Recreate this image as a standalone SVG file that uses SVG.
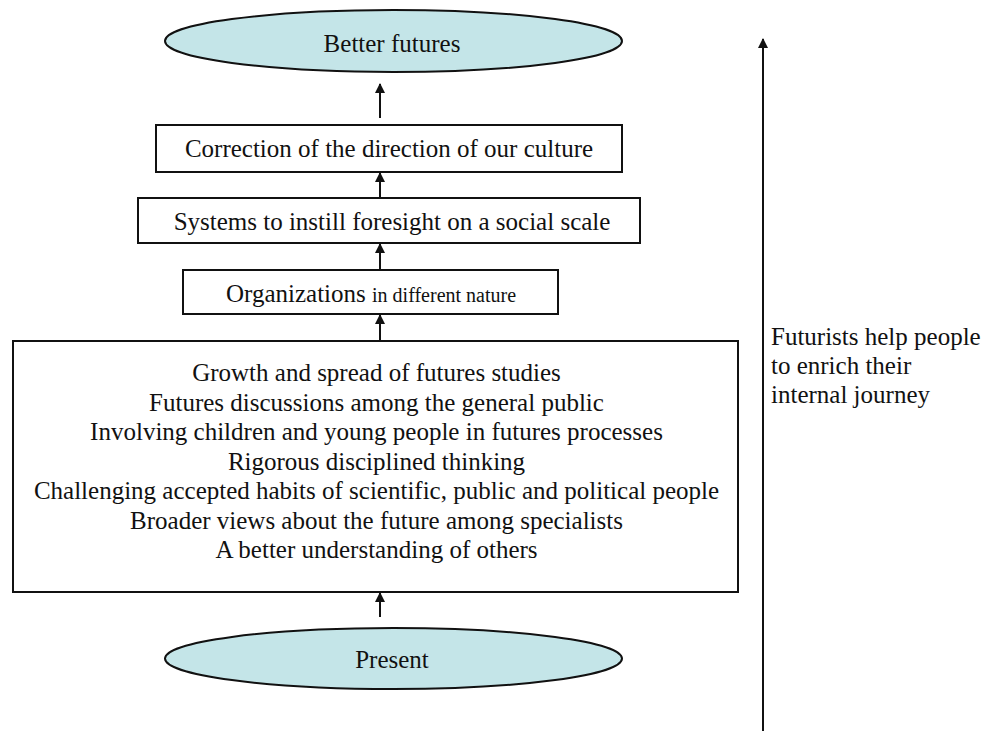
<svg xmlns="http://www.w3.org/2000/svg" width="991" height="731" viewBox="0 0 991 731">
<defs>
<style>
.t{font-family:"Liberation Serif","Times New Roman",serif;font-size:25px;fill:#111;text-anchor:middle}
.box{fill:#fff;stroke:#111;stroke-width:2}
.ell{fill:#C4E5E8;stroke:#111;stroke-width:2}
.c{stroke:#111;stroke-width:2;fill:none;marker-end:url(#ah)}
</style>
<marker id="ah" viewBox="0 0 10 10" refX="9" refY="5" markerWidth="5" markerHeight="5" markerUnits="strokeWidth" orient="auto">
<path d="M0,0 L10,5 L0,10 z" fill="#111"/>
</marker>
</defs>
<rect width="991" height="731" fill="#fff"/>
<g id="connectors">
<line class="c" x1="380" y1="118" x2="380" y2="84"/>
<line class="c" x1="380" y1="198" x2="380" y2="173"/>
<line class="c" x1="380" y1="270" x2="380" y2="244"/>
<line class="c" x1="380" y1="341" x2="380" y2="315"/>
<line class="c" x1="380" y1="617" x2="380" y2="593"/>
<line class="c" x1="763" y1="731" x2="763" y2="39"/>
</g>
<g id="better-futures">
<ellipse class="ell" cx="393.5" cy="41" rx="228.5" ry="31"/>
<text class="t" x="392" y="52">Better futures</text>
</g>
<g id="correction">
<rect class="box" x="156" y="125" width="466" height="47"/>
<text class="t" x="389" y="157">Correction of the direction of our culture</text>
</g>
<g id="systems">
<rect class="box" x="138" y="198" width="502" height="45"/>
<text class="t" x="392" y="230">Systems to instill foresight on a social scale</text>
</g>
<g id="organizations">
<rect class="box" x="183" y="270" width="375" height="44"/>
<text class="t" x="371" y="302">Organizations <tspan font-size="20">in different nature</tspan></text>
</g>
<g id="activities">
<rect class="box" x="13" y="341" width="725" height="251"/>
<text class="t" x="376.5" y="381">Growth and spread of futures studies</text>
<text class="t" x="376.5" y="410.5">Futures discussions among the general public</text>
<text class="t" x="376.5" y="440">Involving children and young people in futures processes</text>
<text class="t" x="376.5" y="469.5">Rigorous disciplined thinking</text>
<text class="t" x="376.5" y="499">Challenging accepted habits of scientific, public and political people</text>
<text class="t" x="376.5" y="528.5">Broader views about the future among specialists</text>
<text class="t" x="376.5" y="558">A better understanding of others</text>
</g>
<g id="present">
<ellipse class="ell" cx="393.5" cy="658.5" rx="228.5" ry="30.5"/>
<text class="t" x="392" y="668">Present</text>
</g>
<g id="futurists-label">
<text class="t" style="text-anchor:start" x="771" y="345">Futurists help people</text>
<text class="t" style="text-anchor:start" x="771" y="374">to enrich their</text>
<text class="t" style="text-anchor:start" x="771" y="403">internal journey</text>
</g>
</svg>
